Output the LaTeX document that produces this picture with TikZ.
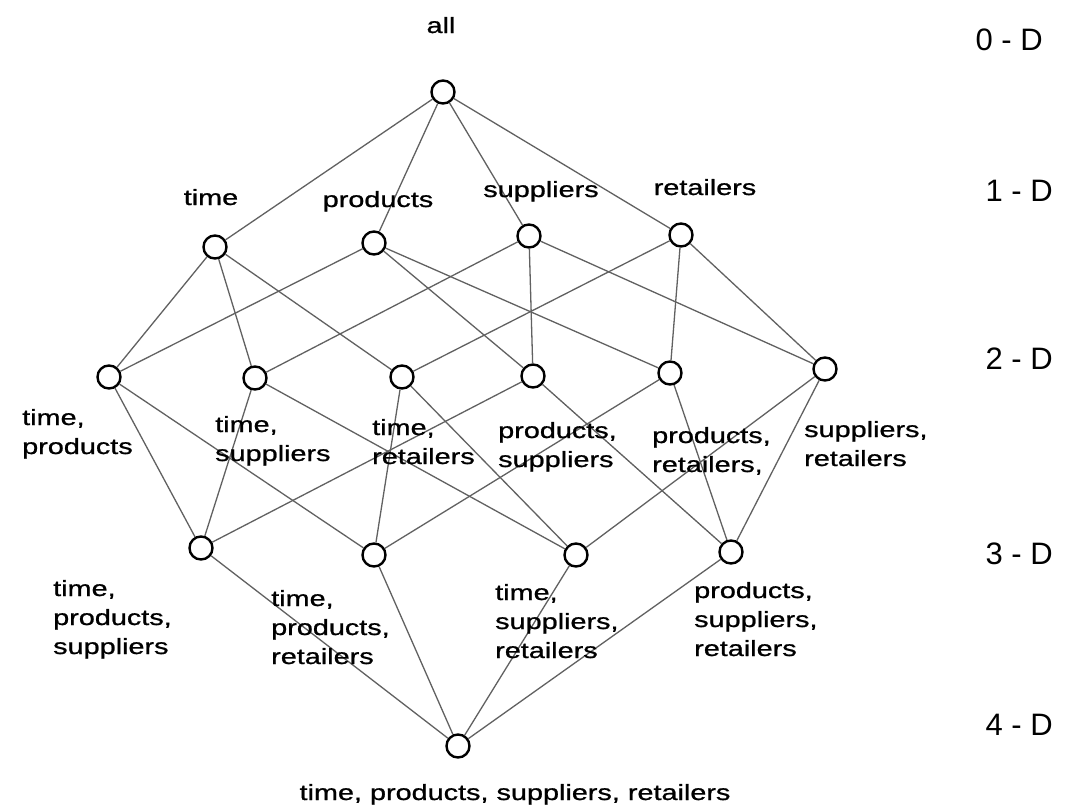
\documentclass[tikz,border=0pt]{standalone}
\usepackage{fontspec}
\setmainfont{Liberation Sans}
\newfontfamily\lblfam{Liberation Sans}[FakeBold=0.8]
\usepackage{graphicx}
\newcommand{\lblfont}{\lblfam\fontsize{22}{29}\selectfont}
\newcommand{\dimfont}{\fontsize{31}{36}\selectfont}
\newcommand{\lbtxt}[1]{\scalebox{1.31}[1]{\begin{tabular}[t]{@{}l@{}}#1\end{tabular}}}
\newcommand{\sgtxt}[1]{\scalebox{1.31}[1]{#1}}
\begin{document}
\begin{tikzpicture}[x=1pt,y=-1pt,
  cub/.style={circle, draw=black, line width=2.4pt, minimum size=23pt, inner sep=0pt},
  link/.style={draw=black!62, line width=1.3pt},
  lbl/.style={inner sep=0pt, font=\lblfont, anchor=base west},
  slbl/.style={inner sep=0pt, font=\lblfont, anchor=base},
  dimlbl/.style={inner sep=0pt, font=\dimfont, anchor=base east}]
\fill[white] (0,0) rectangle (1066,811);
\useasboundingbox (0,0) rectangle (1066,811);
% cuboids
\node[cub] (all) at (443,92) {};
\node[cub] (t) at (215,247) {};
\node[cub] (p) at (374,243) {};
\node[cub] (s) at (529,236) {};
\node[cub] (r) at (681,235) {};
\node[cub] (tp) at (109,377) {};
\node[cub] (ts) at (255,378) {};
\node[cub] (tr) at (402,377) {};
\node[cub] (ps) at (533,376) {};
\node[cub] (pr) at (670,373) {};
\node[cub] (sr) at (825,369) {};
\node[cub] (tps) at (201,548) {};
\node[cub] (tpr) at (374,555) {};
\node[cub] (tsr) at (576,555) {};
\node[cub] (psr) at (731,552) {};
\node[cub] (tpsr) at (458,746) {};
% links
\foreach \a/\b in {all/t,all/p,all/s,all/r,
  t/tp,t/ts,t/tr,p/tp,p/ps,p/pr,s/ts,s/ps,s/sr,r/tr,r/pr,r/sr,
  tp/tps,tp/tpr,ts/tps,ts/tsr,tr/tpr,tr/tsr,ps/tps,ps/psr,pr/tpr,pr/psr,sr/tsr,sr/psr,
  tps/tpsr,tpr/tpsr,tsr/tpsr,psr/tpsr}
  \draw[link] (\a) -- (\b);
% labels
\node[slbl] (lall) at (441,33) {\sgtxt{all}};
\node[slbl] (lt) at (211,205) {\sgtxt{time}};
\node[slbl] (lp) at (378,207) {\sgtxt{products}};
\node[slbl] (ls) at (541,197) {\sgtxt{suppliers}};
\node[slbl] (lr) at (705,195) {\sgtxt{retailers}};
\node[lbl] (ltp) at (22,425) {\lbtxt{time,\\products}};
\node[lbl] (lts) at (215,432) {\lbtxt{time,\\suppliers}};
\node[lbl] (ltr) at (372,435) {\lbtxt{time,\\retailers}};
\node[lbl] (lps) at (498,438) {\lbtxt{products,\\suppliers}};
\node[lbl] (lpr) at (652,443) {\lbtxt{products,\\retailers,}};
\node[lbl] (lsr) at (804,437) {\lbtxt{suppliers,\\retailers}};
\node[lbl] (ltps) at (53,596) {\lbtxt{time,\\products,\\suppliers}};
\node[lbl] (ltpr) at (271,606) {\lbtxt{time,\\products,\\retailers}};
\node[lbl] (ltsr) at (495,600) {\lbtxt{time,\\suppliers,\\retailers}};
\node[lbl] (lpsr) at (694,598) {\lbtxt{products,\\suppliers,\\retailers}};
\node[slbl] (ltpsr) at (515,800) {\sgtxt{time, products, suppliers, retailers}};
% dimension labels
\node[dimlbl] (d0) at (1043,50) {0 - D};
\node[dimlbl] (d1) at (1053,201) {1 - D};
\node[dimlbl] (d2) at (1053,369) {2 - D};
\node[dimlbl] (d3) at (1053,564) {3 - D};
\node[dimlbl] (d4) at (1053,735) {4 - D};
\end{tikzpicture}
\end{document}
